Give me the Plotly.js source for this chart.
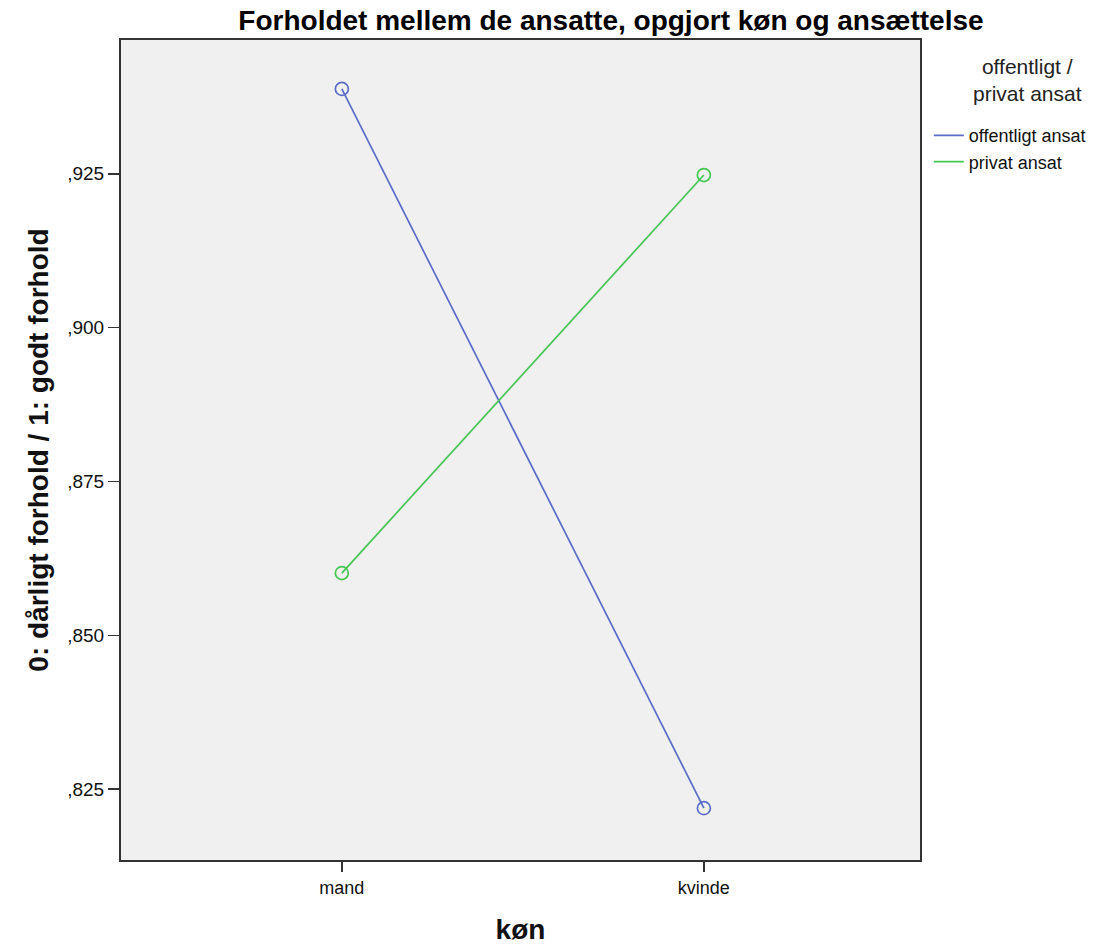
<!DOCTYPE html>
<html>
<head>
<meta charset="utf-8">
<script src="https://cdn.plot.ly/plotly-3.0.1.min.js"></script>
<style>html,body{margin:0;padding:0;background:#fff;}#chart{width:1119px;height:950px;}</style>
</head>
<body>
<div id="chart"></div>
<script>
const categories = ['mand', 'kvinde'];
const offentligt = [0.9388, 0.8219];
const privat = [0.8601, 0.9248];
const seriesNames = ['offentligt ansat', 'privat ansat'];
const legendTitle = 'offentligt /<br>privat ansat';
const tickVals = [0.825, 0.850, 0.875, 0.900, 0.925];
const tickText = [',825', ',850', ',875', ',900', ',925'];
const colors = ['#5a6cc8', '#45c652'];

const font = 'Liberation Sans, Arial, sans-serif';
const seriesData = [offentligt, privat];
const traces = [];
seriesData.forEach((vals, i) => {
  traces.push({
    x: categories, y: vals, type: 'scatter', mode: 'lines',
    name: seriesNames[i], line: {color: colors[i], width: 1.7}
  });
});
seriesData.forEach((vals, i) => {
  traces.push({
    x: categories, y: vals, type: 'scatter', mode: 'markers', showlegend: false,
    hoverinfo: 'skip',
    marker: {symbol: 'circle-open', size: 13, color: colors[i], line: {width: 1.7, color: colors[i]}}
  });
});

const layout = {
  width: 1119, height: 950,
  margin: {l: 121, r: 199, t: 40, b: 90},
  paper_bgcolor: '#ffffff', plot_bgcolor: '#f0f0f0',
  font: {family: font, color: '#000'},
  title: {text: 'Forholdet mellem de ansatte, opgjort køn og ansættelse', font: {size: 28, family: font, weight: 'bold', color: '#000'}, x: 0.546, xanchor: 'center', y: 0.979, yanchor: 'middle'},
  xaxis: {
    type: 'category', range: [-0.61, 1.597],
    showgrid: false, zeroline: false,
    showline: true, linecolor: '#333', linewidth: 2, mirror: true,
    ticks: 'outside', ticklen: 10, tickcolor: '#333', tickwidth: 1.5,
    tickfont: {size: 18, family: font, color: '#111'},
    title: {text: 'køn', font: {size: 28, family: font, weight: 'bold', color: '#111'}, standoff: 23}
  },
  yaxis: {
    range: [0.81347, 0.94675], tickvals: tickVals, ticktext: tickText,
    showgrid: false, zeroline: false,
    showline: true, linecolor: '#333', linewidth: 2, mirror: true,
    ticks: 'outside', ticklen: 11, tickcolor: '#333', tickwidth: 1.5,
    tickfont: {size: 19, family: font, color: '#111'},
    title: {text: '0: dårligt forhold / 1: godt forhold', font: {size: 28, family: font, weight: 'bold', color: '#111'}, standoff: 10}
  },
  legend: {
    x: 1.011, xanchor: 'left', y: 0.906, yanchor: 'top',
    bgcolor: 'rgba(0,0,0,0)', tracegroupgap: 0, itemwidth: 30,
    font: {size: 18, family: font, color: '#111'}
  },
  annotations: [{
    text: legendTitle, xref: 'paper', yref: 'paper', x: 1.135, y: 0.984,
    xanchor: 'center', yanchor: 'top', showarrow: false, align: 'center',
    font: {size: 21, family: font, color: '#222'}
  }],
  showlegend: true
};
Plotly.newPlot('chart', traces, layout, {staticPlot: true, displayModeBar: false});
</script>
</body>
</html>
